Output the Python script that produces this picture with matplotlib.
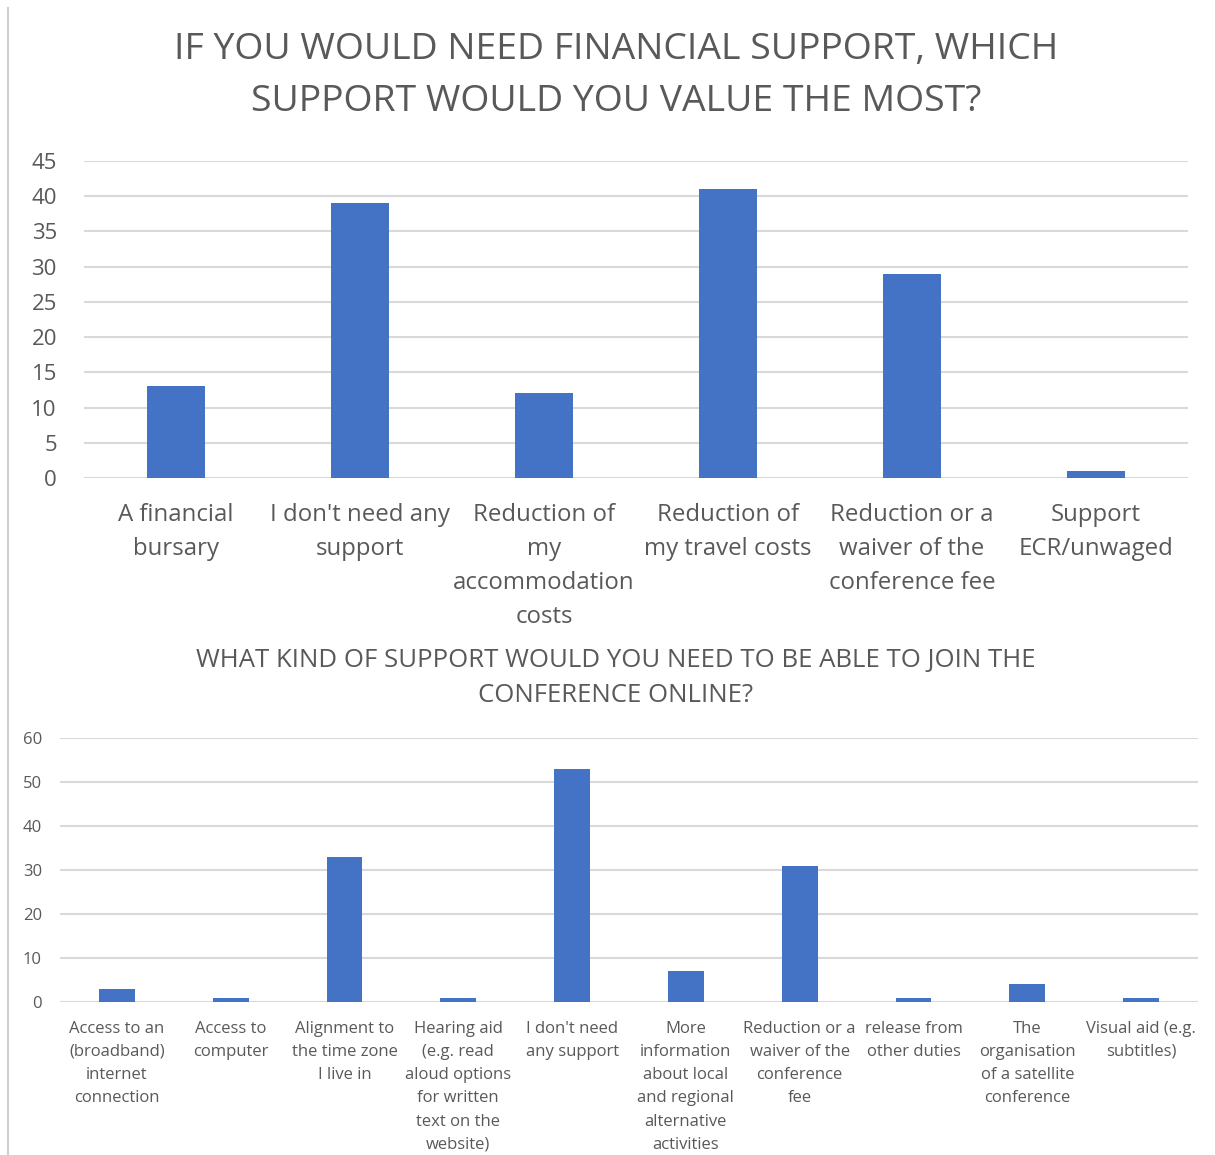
import matplotlib
matplotlib.use("Agg")
import matplotlib.pyplot as plt
from matplotlib.lines import Line2D

plt.rcParams['font.family'] = ['Open Sans', 'DejaVu Sans']

# Survey: financial support
fin_labels = [
    "A financial\nbursary",
    "I don't need any\nsupport",
    "Reduction of\nmy\naccommodation\ncosts",
    "Reduction of\nmy travel costs",
    "Reduction or a\nwaiver of the\nconference fee",
    "Support\nECR/unwaged",
]
fin_values = [13, 39, 12, 41, 29, 1]
fin_ticks = [0, 5, 10, 15, 20, 25, 30, 35, 40, 45]

# Survey: online participation support
online_labels = [
    "Access to an\n(broadband)\ninternet\nconnection",
    "Access to\ncomputer",
    "Alignment to\nthe time zone\nI live in",
    "Hearing aid\n(e.g. read\naloud options\nfor written\ntext on the\nwebsite)",
    "I don't need\nany support",
    "More\ninformation\nabout local\nand regional\nalternative\nactivities",
    "Reduction or a\nwaiver of the\nconference\nfee",
    "release from\nother duties",
    "The\norganisation\nof a satellite\nconference",
    "Visual aid (e.g.\nsubtitles)",
]
online_values = [3, 1, 33, 1, 53, 7, 31, 1, 4, 1]
online_ticks = [0, 10, 20, 30, 40, 50, 60]

BAR = "#4472C4"
GRID = "#d9d9d9"
TEXT = "#595959"

W, H = 1215, 1155
fig = plt.figure(figsize=(W / 100, H / 100), dpi=100)
fig.patch.set_facecolor("white")


def fx(px):
    return px / W


def fy(py):
    return 1 - py / H


def style_axes(ax, ticks, tick_size, tick_pad, label_size, label_pad, linespacing):
    ax.set_ylim(ticks[0], ticks[-1])
    ax.set_yticks(ticks)
    for s in ax.spines.values():
        s.set_visible(False)
    ax.yaxis.grid(True, color=GRID, linewidth=1.5)
    ax.set_axisbelow(True)
    ax.tick_params(axis='y', length=0, labelsize=tick_size, labelcolor=TEXT, pad=tick_pad)
    ax.tick_params(axis='x', length=0, labelsize=label_size, labelcolor=TEXT, pad=label_pad)
    for t in ax.get_xticklabels():
        t.set_linespacing(linespacing)


# Top chart
ax1 = fig.add_axes([fx(84), fy(478), fx(1188) - fx(84), fy(161) - fy(478)])
x1 = range(len(fin_values))
ax1.bar(x1, fin_values, width=0.315, color=BAR, zorder=3)
ax1.set_xlim(-0.5, len(fin_values) - 0.5)
ax1.set_xticks(list(x1))
ax1.set_xticklabels(fin_labels)
style_axes(ax1, fin_ticks, 16, 19.5, 17.3, 18, 1.55)
fig.text(0.507, fy(76), "IF YOU WOULD NEED FINANCIAL SUPPORT, WHICH\nSUPPORT WOULD YOU VALUE THE MOST?",
         ha='center', va='center', fontsize=26.9, color=TEXT, linespacing=1.56)

# Bottom chart
ax2 = fig.add_axes([fx(60), fy(1002), fx(1198) - fx(60), fy(738) - fy(1002)])
x2 = range(len(online_values))
ax2.bar(x2, online_values, width=0.316, color=BAR, zorder=3)
ax2.set_xlim(-0.5, len(online_values) - 0.5)
ax2.set_xticks(list(x2))
ax2.set_xticklabels(online_labels)
style_axes(ax2, online_ticks, 12, 13, 12, 13.5, 1.6)
fig.text(0.507, fy(678), "WHAT KIND OF SUPPORT WOULD YOU NEED TO BE ABLE TO JOIN THE\nCONFERENCE ONLINE?",
         ha='center', va='center', fontsize=18.5, color=TEXT, linespacing=1.55)

# Thin frame line along the left edge
fig.add_artist(Line2D([fx(8), fx(8)], [fy(8), fy(1155)], color="#d0d0d0", linewidth=1.5,
                      transform=fig.transFigure))

fig.savefig("out.png", dpi=100, facecolor="white")
